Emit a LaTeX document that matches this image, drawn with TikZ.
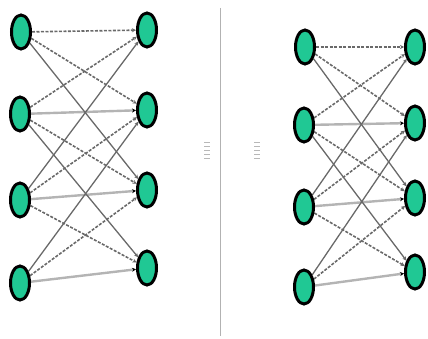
\documentclass[tikz,border=0pt]{standalone}
\usetikzlibrary{arrows.meta,shapes.geometric,backgrounds}
\definecolor{nodegreen}{RGB}{32,200,148}
\definecolor{edgegray}{RGB}{105,105,105}
\definecolor{lightedge}{RGB}{180,180,180}
\tikzset{
  x=1pt, y=-1pt,
  vtx/.style={ellipse, draw=black, line width=3pt, fill=nodegreen,
    minimum width=19pt, minimum height=34pt, inner sep=0pt},
  solidedge/.style={draw=edgegray, line width=1.3pt, -{Stealth[length=4pt,width=4pt]}},
  dashedge/.style={draw=edgegray, line width=1.6pt, dash pattern=on 3pt off 1.5pt,
    -{Stealth[length=4pt,width=4pt]}},
  flatedge/.style={draw=lightedge, line width=2.4pt, -{Stealth[length=4pt,width=4pt,black]}},
  sep/.style={draw=black!30, line width=1pt},
  tick/.style={draw=black!28, line width=0.8pt}
}
\begin{document}
\begin{tikzpicture}
\useasboundingbox (0,0) rectangle (428,339);

% left bipartite graph
\node[vtx] (a1) at (21,32) {};
\node[vtx] (a2) at (20,114) {};
\node[vtx] (a3) at (20,200) {};
\node[vtx] (a4) at (20,283) {};
\node[vtx] (b1) at (147,30) {};
\node[vtx] (b2) at (147,110) {};
\node[vtx] (b3) at (147,190) {};
\node[vtx] (b4) at (147,268) {};

% right bipartite graph
\node[vtx] (c1) at (305,47) {};
\node[vtx] (c2) at (304,125) {};
\node[vtx] (c3) at (304,207) {};
\node[vtx] (c4) at (304,287) {};
\node[vtx] (d1) at (415,47) {};
\node[vtx] (d2) at (415,123) {};
\node[vtx] (d3) at (415,198) {};
\node[vtx] (d4) at (415,272) {};

% edges, drawn under the nodes
\begin{scope}[on background layer]
\foreach \u/\v in {a/b, c/d} {
  \draw[dashedge] (\u1) -- (\v1);
  \draw[flatedge] (\u2) -- (\v2);
  \draw[flatedge] (\u3) -- (\v3);
  \draw[flatedge] (\u4) -- (\v4);
  \draw[dashedge] (\u1) -- (\v2);
  \draw[dashedge] (\u2) -- (\v1);
  \draw[dashedge] (\u2) -- (\v3);
  \draw[dashedge] (\u3) -- (\v2);
  \draw[dashedge] (\u3) -- (\v4);
  \draw[dashedge] (\u4) -- (\v3);
  \draw[solidedge] (\u1) -- (\v3);
  \draw[solidedge] (\u2) -- (\v4);
  \draw[solidedge] (\u3) -- (\v1);
  \draw[solidedge] (\u4) -- (\v2);
}
\end{scope}

% divider and small marks
\coordinate (s1) at (220,8);
\coordinate (s2) at (220,336);
\draw[sep] (s1) -- (s2);
\foreach \yy in {142,146,150,154,158} {
  \draw[tick] (204,\yy) -- (210,\yy);
  \draw[tick] (254,\yy) -- (260,\yy);
}
\end{tikzpicture}
\end{document}
